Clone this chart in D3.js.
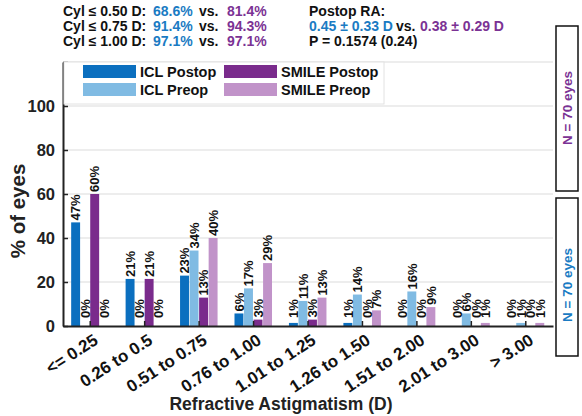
<!DOCTYPE html>
<html><head><meta charset="utf-8">
<script src="https://cdn.jsdelivr.net/npm/d3@7"></script>
<style>body{margin:0;background:#fff}svg{font-family:"Liberation Sans",Arial,sans-serif;font-weight:bold}</style>
</head><body><svg id="c" width="582" height="416"></svg>
<script>
const categories = ["<= 0.25","0.26 to 0.5","0.51 to 0.75","0.76 to 1.00","1.01 to 1.25","1.26 to 1.50","1.51 to 2.00","2.01 to 3.00","> 3.00"];
const seriesNames = ["ICL Postop","ICL Preop","SMILE Postop","SMILE Preop"];
const iclPostop   = [47.1, 21.4, 22.9, 5.7, 1.4, 1.4, 0, 0, 0];
const iclPreop    = [0, 0, 34.3, 17.1, 11.4, 14.3, 15.7, 5.7, 1.4];
const smilePostop = [60.0, 21.4, 12.9, 2.9, 2.9, 0, 0, 0, 0];
const smilePreop  = [0, 0, 40.0, 28.6, 12.9, 7.1, 8.6, 1.4, 1.4];
const yTicks = [0, 20, 40, 60, 80, 100, 120];
const yTickLabels = ["0","20","40","60","80","100",""];
const colors = ["#0b6fbf","#80bbe3","#7a2b8c","#c193c9"];
const blue = "#1a7bc3", purple = "#7b3294";

const seriesValues = [iclPostop, iclPreop, smilePostop, smilePreop];
const svg = d3.select("#c");
const L = 63, R = 553, T = 62, B = 326;
const y = d3.scaleLinear().domain([0,120]).range([B,T]);
const x = d3.scaleBand().domain(categories).range([L,R]).padding(0);
const bw = x.bandwidth()*0.7;
const x1 = d3.scaleBand().domain(seriesNames).range([-bw/2, bw/2]).padding(0);

// gridlines
svg.append("g").selectAll("line").data(yTicks.filter(d=>d>0)).join("line")
  .attr("x1",L).attr("x2",R).attr("y1",d=>y(d)).attr("y2",d=>y(d))
  .attr("stroke","#dcdcdc").attr("stroke-width",1.2);

// bars
const bars = [];
seriesValues.forEach((vals,si)=>vals.forEach((v,ci)=>bars.push({s:seriesNames[si],c:categories[ci],v,si})));
svg.append("g").selectAll("rect").data(bars).join("rect")
  .attr("x",d=>x(d.c)+x.bandwidth()/2+x1(d.s)).attr("width",x1.bandwidth()-0.6)
  .attr("y",d=>y(d.v)).attr("height",d=>B-y(d.v)).attr("fill",d=>colors[d.si]);

// bar labels
svg.append("g").selectAll("text").data(bars).join("text")
  .attr("transform",d=>`translate(${x(d.c)+x.bandwidth()/2+x1(d.s)+x1.bandwidth()/2+4.5},${y(Math.max(d.v,2.7))-2}) rotate(-90)`)
  .attr("font-size",13).attr("fill","#111")
  .text(d=>Math.round(d.v)+"%");

// axes
const yAxis = d3.axisLeft(y).tickValues(yTicks).tickFormat((d,i)=>yTickLabels[i]).tickSizeInner(-5).tickSizeOuter(0).tickPadding(8);
const gy = svg.append("g").attr("transform",`translate(${L},0)`).call(yAxis);
gy.selectAll("text").attr("font-size",16.5).attr("fill","#222").attr("font-weight","bold").attr("font-family","Liberation Sans");
gy.selectAll("line").attr("stroke","#222").attr("stroke-width",1.5);
gy.select(".domain").attr("stroke","#222").attr("stroke-width",2);

const xAxis = d3.axisBottom(x).tickSizeInner(-5).tickSizeOuter(0).tickFormat("");
const gx = svg.append("g").attr("transform",`translate(0,${B})`).call(xAxis);
gx.selectAll("line").attr("stroke","#222").attr("stroke-width",1.5);
gx.select(".domain").attr("stroke","#222").attr("stroke-width",2);
gx.selectAll(".tick").append("text")
  .attr("transform","translate(9,17) rotate(-33)")
  .attr("text-anchor","end").attr("fill","#111").attr("font-size",17)
  .attr("font-weight","bold").attr("font-family","Liberation Sans")
  .text(d=>d);

// axis titles
svg.append("text").attr("x",281).attr("y",410).attr("text-anchor","middle").attr("font-size",17.5).attr("fill","#222").text("Refractive Astigmatism (D)");
svg.append("text").attr("transform","translate(25,211) rotate(-90)").attr("text-anchor","middle").attr("font-size",20.5).attr("fill","#222").text("% of eyes");

// legend
const lg = svg.append("g");
lg.append("rect").attr("x",L+1).attr("y",T).attr("width",320).attr("height",42).attr("fill","#fff").attr("stroke","#e2e2e2");
const legPos = [[83,65],[83,83],[224,65],[224,83]];
seriesNames.forEach((n,i)=>{
  lg.append("rect").attr("x",legPos[i][0]).attr("y",legPos[i][1]).attr("width",53).attr("height",13).attr("fill",colors[i]);
  lg.append("text").attr("x",legPos[i][0]+57).attr("y",legPos[i][1]+12).attr("font-size",14.5).attr("fill","#111").text(n);
});

// top annotations
const ann = [["Cyl \u2264 0.50 D:","68.6%","81.4%",16],["Cyl \u2264 0.75 D:","91.4%","94.3%",31],["Cyl \u2264 1.00 D:","97.1%","97.1%",46]];
ann.forEach(a=>{
  svg.append("text").attr("x",63).attr("y",a[3]).attr("font-size",14).attr("fill","#111").text(a[0]);
  svg.append("text").attr("x",153).attr("y",a[3]).attr("font-size",14).attr("fill",blue).text(a[1]);
  svg.append("text").attr("x",199).attr("y",a[3]).attr("font-size",14).attr("fill","#111").text("vs.");
  svg.append("text").attr("x",227).attr("y",a[3]).attr("font-size",14).attr("fill",purple).text(a[2]);
});
svg.append("text").attr("x",309).attr("y",16).attr("font-size",14).attr("fill","#111").text("Postop RA:");
svg.append("text").attr("x",309).attr("y",31).attr("font-size",14).attr("fill",blue).text("0.45 \u00b1 0.33 D");
svg.append("text").attr("x",396).attr("y",31).attr("font-size",14).attr("fill","#111").text("vs.");
svg.append("text").attr("x",420).attr("y",31).attr("font-size",14).attr("fill",purple).text("0.38 \u00b1 0.29 D");
svg.append("text").attr("x",309).attr("y",46).attr("font-size",14).attr("fill","#111").text("P = 0.1574 (0.24)");

// N boxes
const boxes = [[26,191,108,purple],[198,356,285,blue]];
boxes.forEach(b=>{
  svg.append("rect").attr("x",556).attr("y",b[0]).attr("width",22).attr("height",b[1]-b[0]).attr("fill","none").attr("stroke","#111").attr("stroke-width",1.5);
  svg.append("text").attr("transform",`translate(572,${b[2]}) rotate(-90)`).attr("text-anchor","middle").attr("font-size",13.5).attr("fill",b[3]).text("N = 70 eyes");
});
</script></body></html>
